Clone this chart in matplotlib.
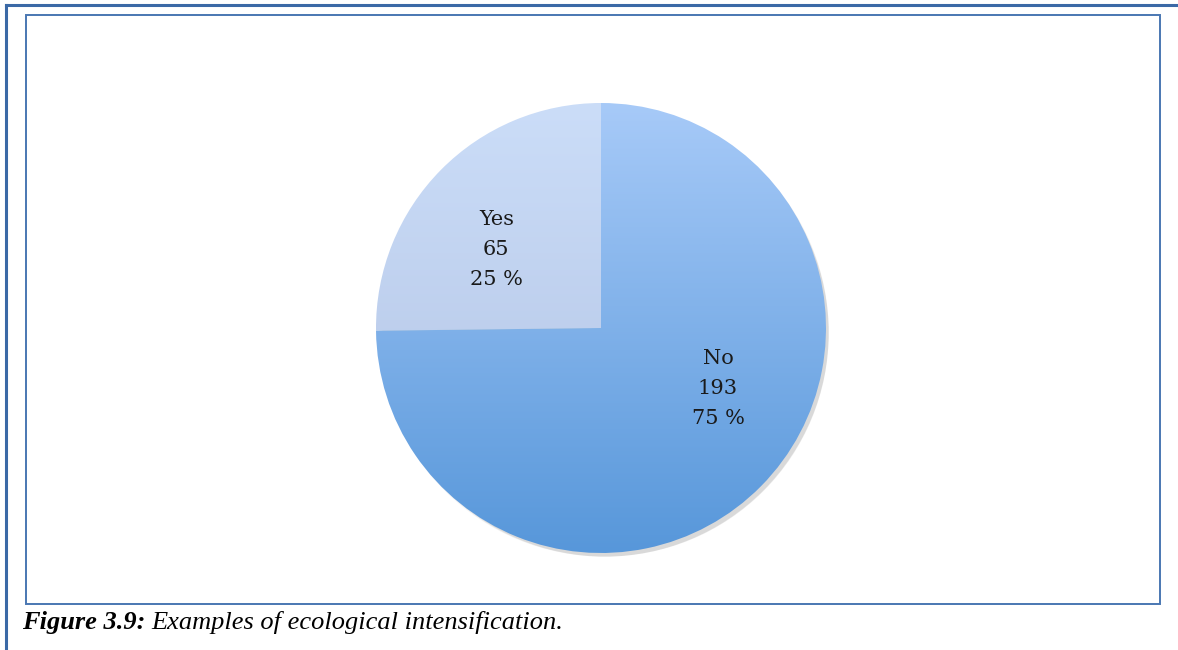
import matplotlib.pyplot as plt
import numpy as np
from matplotlib.colors import LinearSegmentedColormap
from matplotlib.lines import Line2D
from matplotlib.patches import Rectangle, Circle

# data
labels = ['Yes', 'No']
counts = [65, 193]
# gradient colours per slice (top -> bottom)
grad_top = ['#CBDDF8', '#A7CAF8']
grad_bottom = ['#B1C2E3', '#5797DA']

W, H = 1178, 650
fig = plt.figure(figsize=(W / 100, H / 100), dpi=100)


def fx(x):
    return x / W


def fy(y):
    return 1 - y / H


# outer page border (runs off the right / bottom edges)
border_col = '#3B69A6'
fig.add_artist(Line2D([fx(6), fx(6)], [fy(5), fy(660)], color=border_col, lw=2.2,
                      transform=fig.transFigure))
fig.add_artist(Line2D([fx(6), fx(1190)], [fy(5), fy(5)], color=border_col, lw=2.2,
                      transform=fig.transFigure))

# inner chart frame
fig.add_artist(Rectangle((fx(26), fy(604)), fx(1160) - fx(26), fy(15) - fy(604),
                         fill=False, edgecolor='#4A77B2', lw=1.4,
                         transform=fig.transFigure))

# pie axes: centre (601, 328) px, radius 225 px
cx, cy, r = 601, 328, 225
ax = fig.add_axes([fx(cx - r), fy(cy + r), 2 * r / W, 2 * r / H])

total = sum(counts)

wedges, texts = ax.pie(counts, startangle=90, counterclock=True, radius=1,
                       wedgeprops=dict(linewidth=0))

# soft shadow behind the pie
for i, a in enumerate([0.06, 0.08, 0.10]):
    sh = Circle((0.012 + 0.004 * i, -0.016 - 0.004 * i), 1.0 - 0.004 * i,
                color='#555555', alpha=a, zorder=0, lw=0, clip_on=False)
    ax.add_patch(sh)

yy = np.linspace(1, 0, 256).reshape(-1, 1)
for w, c0, c1 in zip(wedges, grad_top, grad_bottom):
    w.set_facecolor('none')
    cmap = LinearSegmentedColormap.from_list('g', [c1, c0])
    im = ax.imshow(yy, cmap=cmap, extent=(-1, 1, -1, 1), aspect='auto',
                   interpolation='bicubic', zorder=1, vmin=0, vmax=1)
    im.set_clip_path(w)

# slice labels
label_pos = [(-0.465, 0.35), (0.52, -0.27)]
for lab, n, pos in zip(labels, counts, label_pos):
    pct = round(n / total * 100)
    ax.text(pos[0], pos[1], f'{lab}\n{n}\n{pct} %', ha='center', va='center',
            fontsize=15, family='DejaVu Serif', color='#1a1a1a',
            linespacing=1.72, zorder=3)

ax.set_xlim(-1, 1)
ax.set_ylim(-1, 1)
ax.axis('off')

# caption: bold-italic lead, italic remainder right after it
t1 = fig.text(fx(22), fy(623), 'Figure 3.9:', fontsize=19, family='Liberation Serif',
              style='italic', weight='bold', va='center', ha='left')
fig.canvas.draw()
bb = t1.get_window_extent()
fig.text(bb.x1 / W + fx(6), fy(623), 'Examples of ecological intensification.',
         fontsize=19, family='Liberation Serif', style='italic', va='center', ha='left')

fig.savefig('out.png', dpi=100)
plt.close(fig)
